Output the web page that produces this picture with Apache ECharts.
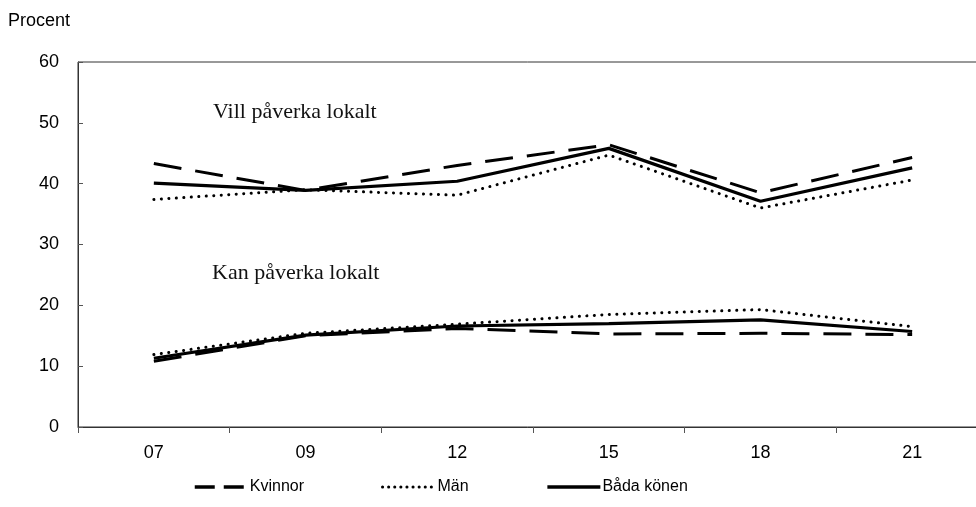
<!DOCTYPE html>
<html>
<head>
<meta charset="utf-8">
<script src="https://cdn.jsdelivr.net/npm/echarts@6/dist/echarts.min.js"></script>
<style>html,body{margin:0;padding:0;background:#fff;overflow:hidden}#c{width:976px;height:507px}</style>
</head>
<body>
<div id="c"></div>
<script>
var categories = ['07', '09', '12', '15', '18', '21'];
var yTicks = [0, 10, 20, 30, 40, 50, 60];
// Vill påverka lokalt
var villKvinnor = [43.3, 38.9, 43.0, 46.4, 38.5, 44.3];
var villMan     = [37.4, 39.0, 38.1, 44.7, 36.0, 40.6];
var villBada    = [40.1, 38.9, 40.4, 45.8, 37.1, 42.6];
// Kan påverka lokalt
var kanKvinnor  = [10.8, 15.0, 16.2, 15.3, 15.4, 15.2];
var kanMan      = [11.9, 15.4, 16.9, 18.5, 19.3, 16.5];
var kanBada     = [11.3, 15.1, 16.6, 17.0, 17.6, 15.7];
var seriesNames = ['Kvinnor', 'Män', 'Båda könen'];
var annotations = ['Vill påverka lokalt', 'Kan påverka lokalt'];

var styles = {
  'Kvinnor': {color: '#000', width: 3, type: [28, 14], cap: 'butt'},
  'Män': {color: '#000', width: 3, type: [0.1, 7.4], cap: 'round'},
  'Båda könen': {color: '#000', width: 3.2, type: 'solid', cap: 'butt'}
};
var legendStyles = {
  'Kvinnor': {type: [20, 9], width: 3.5, cap: 'butt'},
  'Män': {type: [0.1, 6], width: 3, cap: 'round'},
  'Båda könen': {type: 'solid', width: 3.5}
};
function mk(name, data) {
  return {
    name: name, type: 'line', data: data, symbol: 'none', showSymbol: false, silent: true,
    lineStyle: styles[name], itemStyle: {color: '#000'}, animation: false
  };
}
var chart = echarts.init(document.getElementById('c'), null, {renderer: 'canvas'});
chart.setOption({
  animation: false,
  grid: {left: 78, width: 910, top: 62, height: 365, show: true, borderColor: '#333', borderWidth: 1,
         containLabel: false, outerBoundsMode: 'none'},
  legend: {
    data: seriesNames.map(function (n) { return {name: n, lineStyle: legendStyles[n]}; }),
    top: 479, left: 193, padding: 0, itemWidth: 53, itemHeight: 14, itemGap: 77,
    itemStyle: {opacity: 0},
    textStyle: {fontFamily: 'Liberation Sans, Arial', fontSize: 16, color: '#000', padding: [0, 0, 0, -3]},
    selectedMode: false
  },
  xAxis: {
    type: 'category', data: categories, boundaryGap: true,
    axisLine: {lineStyle: {color: '#333', width: 1}},
    axisTick: {show: true, length: 6, inside: false, lineStyle: {color: '#555'}},
    axisLabel: {fontFamily: 'Liberation Sans, Arial', fontSize: 18, color: '#000', margin: 17}
  },
  yAxis: {
    type: 'value', min: yTicks[0], max: yTicks[yTicks.length - 1], interval: 10,
    name: 'Procent', nameLocation: 'end', nameGap: 32,
    nameTextStyle: {fontFamily: 'Liberation Sans, Arial', fontSize: 18, color: '#000', align: 'left', padding: [0, 0, 0, -70]},
    axisLine: {show: true, lineStyle: {color: '#333', width: 1}},
    axisTick: {show: true, inside: true, length: 5, lineStyle: {color: '#555'}},
    splitLine: {show: false},
    axisLabel: {fontFamily: 'Liberation Sans, Arial', fontSize: 18, color: '#000', margin: 19}
  },
  graphic: [
    {type: 'text', x: 213, y: 112, style: {text: annotations[0], font: '22px "Liberation Serif", "DejaVu Serif", serif', fill: '#111', verticalAlign: 'middle'}},
    {type: 'text', x: 212, y: 273, style: {text: annotations[1], font: '22px "Liberation Serif", "DejaVu Serif", serif', fill: '#111', verticalAlign: 'middle'}}
  ],
  series: [
    mk('Kvinnor', villKvinnor), mk('Män', villMan), mk('Båda könen', villBada),
    mk('Kvinnor', kanKvinnor), mk('Män', kanMan), mk('Båda könen', kanBada)
  ]
});
</script>
</body>
</html>
